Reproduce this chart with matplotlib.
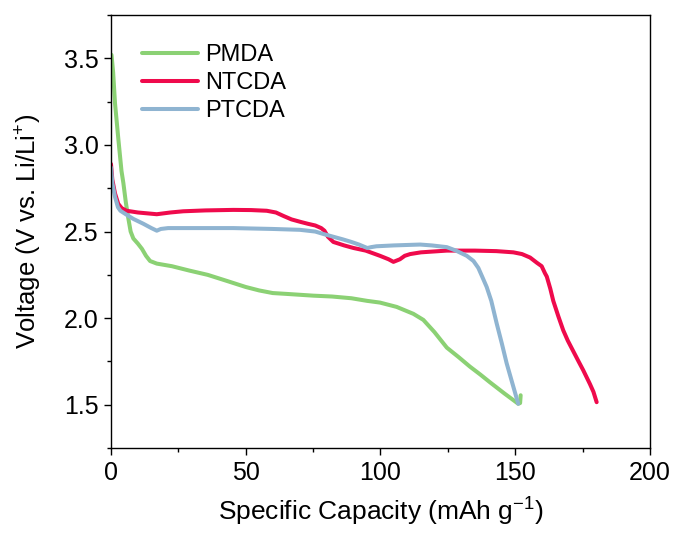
import matplotlib
matplotlib.use("Agg")
import matplotlib.pyplot as plt
from matplotlib.ticker import MultipleLocator

plt.rcParams['font.family'] = ['Liberation Sans', 'DejaVu Sans']
plt.rcParams['mathtext.fontset'] = 'custom'
plt.rcParams['mathtext.rm'] = 'Liberation Sans'
plt.rcParams['mathtext.it'] = 'Liberation Sans:italic'

# discharge curves: capacity (mAh/g) vs voltage (V)
pmda_cap = [0.2, 0.8, 1.5, 2.7, 3.9, 4.6, 5.5, 6.4, 7.3, 8.3, 10, 11.5, 13, 14.5, 17,
            22.6, 29, 35.9, 43, 50, 55, 60, 65.2, 75, 82, 89.2, 95, 99.8, 106, 112.2,
            115.9, 120, 124.6, 129, 133.2, 137, 140.6, 146, 151.1, 151.8, 152.0]
pmda_v = [3.52, 3.42, 3.24, 3.04, 2.85, 2.78, 2.67, 2.58, 2.50, 2.46, 2.43, 2.40, 2.36, 2.33, 2.315,
          2.30, 2.275, 2.25, 2.215, 2.18, 2.16, 2.145, 2.14, 2.13, 2.125, 2.115, 2.10, 2.09, 2.065, 2.025,
          1.99, 1.92, 1.83, 1.775, 1.72, 1.675, 1.63, 1.565, 1.506, 1.51, 1.555]

ntcda_cap = [0, 0.5, 1.5, 2.7, 4, 5.8, 10, 17, 22, 26.8, 35, 45.4, 52, 57.8, 61.2, 64, 67,
             70.5, 73, 75.8, 78, 79.2, 80.5, 82.5, 86.5, 90, 94.5, 99.8, 103, 104.8, 107.2,
             109, 111, 115, 124.6, 135, 143, 149.3, 152.5, 155.5, 158, 159.8, 161, 161.7,
             163, 164.1, 166, 167.8, 169.5, 171.5, 173.5, 175.2, 177.7, 179, 180.2]
ntcda_v = [2.89, 2.80, 2.72, 2.66, 2.635, 2.62, 2.61, 2.60, 2.61, 2.617, 2.622, 2.625, 2.624, 2.62,
           2.61, 2.59, 2.57, 2.555, 2.545, 2.535, 2.52, 2.505, 2.47, 2.44, 2.42, 2.405, 2.39, 2.36,
           2.34, 2.325, 2.34, 2.36, 2.37, 2.38, 2.39, 2.39, 2.387, 2.38, 2.37, 2.35, 2.32, 2.30,
           2.26, 2.24, 2.17, 2.10, 2.01, 1.93, 1.87, 1.81, 1.75, 1.70, 1.62, 1.575, 1.515]

ptcda_cap = [0, 0.5, 1.5, 2.6, 3.5, 5.5, 8.3, 12, 15, 17, 18.5, 21.2, 30, 45.4, 60, 70.1,
             75.8, 79, 82.5, 86, 89.2, 92, 95.1, 96.5, 98.5, 105, 114.7, 119, 124.6, 128,
             132, 134.5, 136.3, 138, 139.4, 141.1, 143.1, 145, 146.8, 149, 151.1]
ptcda_v = [2.87, 2.78, 2.70, 2.64, 2.62, 2.60, 2.573, 2.545, 2.52, 2.505, 2.515, 2.52, 2.52, 2.52,
           2.515, 2.51, 2.50, 2.485, 2.47, 2.455, 2.44, 2.425, 2.405, 2.41, 2.415, 2.42, 2.425,
           2.42, 2.41, 2.39, 2.36, 2.33, 2.29, 2.23, 2.18, 2.10, 1.97, 1.855, 1.74, 1.62, 1.506]

fig = plt.figure(figsize=(6.75, 5.36), dpi=100)
ax = fig.add_axes([0.1644, 0.164, 0.7986, 0.808])

lw = 2.9
ax.plot(pmda_cap, pmda_v, color='#8bd174', lw=lw, label='PMDA', solid_capstyle='round', solid_joinstyle='round')
ax.plot(ntcda_cap, ntcda_v, color='#ef0a4c', lw=lw, label='NTCDA', solid_capstyle='round', solid_joinstyle='round')
ax.plot(ptcda_cap, ptcda_v, color='#8fb4d1', lw=lw, label='PTCDA', solid_capstyle='round', solid_joinstyle='round')

ax.set_xlim(0, 200)
ax.set_ylim(1.25, 3.75)
ax.xaxis.set_major_locator(MultipleLocator(50))
ax.xaxis.set_minor_locator(MultipleLocator(25))
ax.yaxis.set_major_locator(MultipleLocator(0.5))
ax.yaxis.set_minor_locator(MultipleLocator(0.25))
ax.tick_params(which='major', direction='out', length=5, width=1, labelsize=18,
               top=False, right=False, pad=4)
ax.tick_params(which='minor', direction='out', length=3.1, width=1, top=False, right=False)
for s in ax.spines.values():
    s.set_linewidth(1)

ax.set_xlabel(r'Specific Capacity (mAh g$^{\mathrm{-1}}$)', fontsize=19, labelpad=8)
ax.set_ylabel(r'Voltage (V vs. Li/Li$^{\mathrm{+}}$)', fontsize=18.5, labelpad=14)

ax.legend(loc='upper left', bbox_to_anchor=(0.057, 0.933), frameon=False, fontsize=17,
          handlelength=2.4, handletextpad=0.28, labelspacing=0.26, borderpad=0, borderaxespad=0)

fig.savefig('out.png', dpi=100)
